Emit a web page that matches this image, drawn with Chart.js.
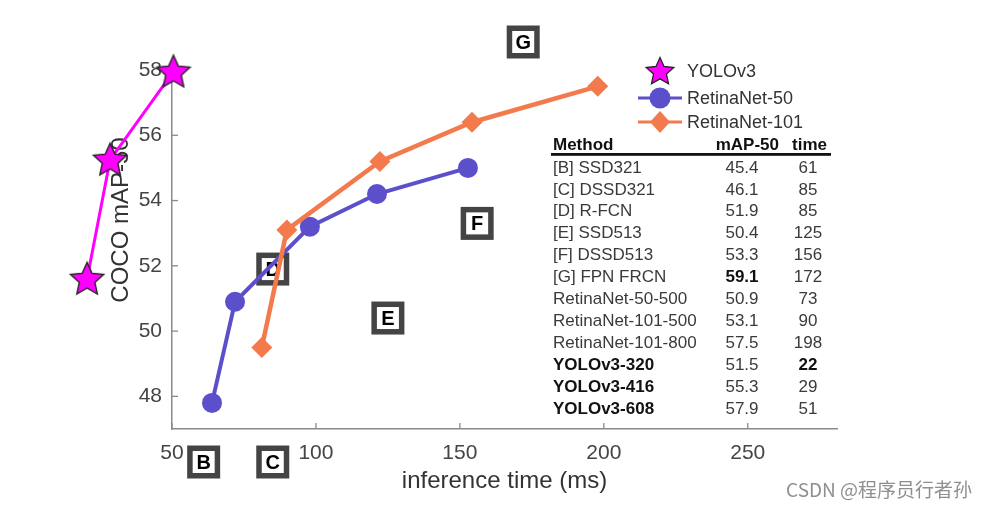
<!DOCTYPE html>
<html><head><meta charset="utf-8">
<script src="https://cdn.jsdelivr.net/npm/chart.js@4"></script>
<style>html,body{margin:0;padding:0;background:#fff}#wrap{width:988px;height:509px}</style>
</head><body><div id="wrap"><canvas id="c" width="988" height="509"></canvas></div>
<script>
// ---- data ----
const xTicks = [50, 100, 150, 200, 250];
const yTicks = [48, 50, 52, 54, 56, 58];
// YOLOv3 points listed from largest to smallest input size
const yoloTime = [50.5, 28.5, 20.5];
const yoloMap = [57.95, 55.25, 51.6];
const r50Time = [63.9, 71.9, 97.9, 121.2, 152.8];
const r50Map = [47.8, 50.9, 53.2, 54.2, 55.0];
const r101Time = [81.2, 89.9, 122.2, 154.2, 197.9];
const r101Map = [49.5, 53.1, 55.2, 56.4, 57.5];
const seriesNames = ['YOLOv3', 'RetinaNet-50', 'RetinaNet-101'];
const boxLetters = ['B', 'C', 'D', 'E', 'F', 'G'];
const boxTime = [61, 85, 85, 125, 156, 172];
const boxMap = [45.4, 46.1, 51.9, 50.4, 53.3, 59.1];
const tableHeader = ['Method', 'mAP-50', 'time'];
const tableMethods = ['[B] SSD321', '[C] DSSD321', '[D] R-FCN', '[E] SSD513', '[F] DSSD513', '[G] FPN FRCN',
  'RetinaNet-50-500', 'RetinaNet-101-500', 'RetinaNet-101-800', 'YOLOv3-320', 'YOLOv3-416', 'YOLOv3-608'];
const tableMap = ['45.4', '46.1', '51.9', '50.4', '53.3', '59.1', '50.9', '53.1', '57.5', '51.5', '55.3', '57.9'];
const tableTime = ['61', '85', '85', '125', '156', '172', '73', '90', '198', '22', '29', '51'];
const boldMethod = [0,0,0,0,0,0,0,0,0,1,1,1];
const boldMap = [0,0,0,0,0,1,0,0,0,0,0,0];
const boldTime = [0,0,0,0,0,0,0,0,0,1,0,0];

const MAGENTA = '#ff00ff', BLUE = '#5b4fcc', ORANGE = '#f27a4c';
const FONT = '"Liberation Sans", Arial, sans-serif';

function makeStar(R, lw) {
  const s = Math.ceil(2 * R + lw * 2 + 2);
  const cv = document.createElement('canvas');
  cv.width = s; cv.height = s;
  const g = cv.getContext('2d');
  const c = s / 2, r = R * 0.47;
  g.beginPath();
  for (let i = 0; i < 10; i++) {
    const a = -Math.PI / 2 + i * Math.PI / 5;
    const rr = i % 2 === 0 ? R : r;
    g.lineTo(c + rr * Math.cos(a), c + rr * Math.sin(a) + 1);
  }
  g.closePath();
  g.fillStyle = MAGENTA; g.fill();
  g.lineWidth = lw; g.strokeStyle = '#222'; g.lineJoin = 'miter'; g.stroke();
  return cv;
}
const bigStar = makeStar(17.5, 1.4);
const smallStar = makeStar(14.5, 1.3);

function pts(xs, ys) { return xs.map((x, i) => ({ x: x, y: ys[i] })); }

const overlay = {
  id: 'overlay',
  beforeDatasetsDraw(chart) {
    const ctx = chart.ctx, xs = chart.scales.x, ys = chart.scales.y, ca = chart.chartArea;
    ctx.save();
    // y axis title (drawn under the marks)
    ctx.save();
    ctx.translate(121, 220); ctx.rotate(-Math.PI / 2);
    ctx.fillStyle = '#333'; ctx.font = '24px ' + FONT; ctx.textAlign = 'center'; ctx.textBaseline = 'middle';
    ctx.fillText('COCO mAP-50', 0, 0);
    ctx.restore();
    ctx.strokeStyle = '#8a8a8a'; ctx.lineWidth = 1.3;
    xTicks.forEach(v => { const p = xs.getPixelForValue(v); ctx.beginPath(); ctx.moveTo(p, ca.bottom); ctx.lineTo(p, ca.bottom - 6); ctx.stroke(); });
    yTicks.forEach(v => { const p = ys.getPixelForValue(v); ctx.beginPath(); ctx.moveTo(ca.left, p); ctx.lineTo(ca.left + 6, p); ctx.stroke(); });
    boxLetters.forEach((L, i) => {
      const cx = xs.getPixelForValue(boxTime[i]);
      let cy = ys.getPixelForValue(boxMap[i]);
      if (boxMap[i] < ys.min) cy = ca.bottom + 33;
      if (cy < ca.top - 28) cy = ca.top - 28;
      const S = 33, B = 5.5;
      ctx.fillStyle = '#444'; ctx.fillRect(cx - S / 2, cy - S / 2, S, S);
      ctx.fillStyle = '#fff'; ctx.fillRect(cx - S / 2 + B, cy - S / 2 + B, S - 2 * B, S - 2 * B);
      ctx.fillStyle = '#000'; ctx.font = 'bold 20px ' + FONT; ctx.textAlign = 'center'; ctx.textBaseline = 'middle';
      ctx.fillText(L, cx, cy + 1);
    });
    ctx.restore();
  },
  afterDatasetsDraw(chart) {
    // star markers at the library-computed positions of the YOLOv3 points (they lie left of the axis)
    const ctx = chart.ctx;
    chart.getDatasetMeta(0).data.forEach(el => {
      ctx.drawImage(bigStar, el.x - bigStar.width / 2, el.y - bigStar.height / 2);
    });
  },
  afterDraw(chart) {
    const ctx = chart.ctx;
    ctx.save();
    const lx = 660, ly = [71, 98, 122], tx = 687;
    ctx.drawImage(smallStar, lx - smallStar.width / 2, ly[0] - smallStar.height / 2);
    ctx.lineWidth = 3;
    ctx.strokeStyle = BLUE; ctx.beginPath(); ctx.moveTo(638, ly[1]); ctx.lineTo(682, ly[1]); ctx.stroke();
    ctx.fillStyle = BLUE; ctx.beginPath(); ctx.arc(lx, ly[1], 10.5, 0, Math.PI * 2); ctx.fill();
    ctx.strokeStyle = ORANGE; ctx.beginPath(); ctx.moveTo(638, ly[2]); ctx.lineTo(682, ly[2]); ctx.stroke();
    ctx.fillStyle = ORANGE; ctx.beginPath(); ctx.moveTo(lx, ly[2] - 11); ctx.lineTo(lx + 10, ly[2]); ctx.lineTo(lx, ly[2] + 11); ctx.lineTo(lx - 10, ly[2]); ctx.closePath(); ctx.fill();
    ctx.fillStyle = '#333'; ctx.font = '18px ' + FONT; ctx.textAlign = 'left'; ctx.textBaseline = 'middle';
    seriesNames.forEach((n, i) => ctx.fillText(n, tx, ly[i] + 1));
    const c0 = 553, c1 = 742, c2 = 808, hy = 145, r0 = 168, dy = 21.9;
    ctx.fillStyle = '#111'; ctx.font = 'bold 17px ' + FONT;
    ctx.textAlign = 'left'; ctx.fillText(tableHeader[0], c0, hy);
    ctx.textAlign = 'right'; ctx.fillText(tableHeader[1], 779, hy);
    ctx.textAlign = 'right'; ctx.fillText(tableHeader[2], 827, hy);
    ctx.fillStyle = '#111'; ctx.fillRect(551, 153, 280, 2.8);
    tableMethods.forEach((m, i) => {
      const y = r0 + i * dy;
      ctx.textAlign = 'left'; ctx.font = (boldMethod[i] ? 'bold ' : '') + '17px ' + FONT; ctx.fillStyle = boldMethod[i] ? '#111' : '#3a3a3a';
      ctx.fillText(m, c0, y);
      ctx.textAlign = 'center'; ctx.font = (boldMap[i] ? 'bold ' : '') + '17px ' + FONT; ctx.fillStyle = boldMap[i] ? '#111' : '#3a3a3a';
      ctx.fillText(tableMap[i], c1, y);
      ctx.font = (boldTime[i] ? 'bold ' : '') + '17px ' + FONT; ctx.fillStyle = boldTime[i] ? '#111' : '#3a3a3a';
      ctx.fillText(tableTime[i], c2, y);
    });
    ctx.fillStyle = '#8f8f8f'; ctx.font = '19px "Noto Sans CJK SC", "Noto Sans", sans-serif'; ctx.textAlign = 'right'; ctx.textBaseline = 'middle';
    ctx.fillText('CSDN @程序员行者孙', 972, 490);
    ctx.restore();
  }
};

new Chart(document.getElementById('c'), {
  type: 'line',
  data: {
    datasets: [
      { label: seriesNames[0], data: pts(yoloTime, yoloMap), borderColor: MAGENTA, borderWidth: 3, pointRadius: 0, clip: false, order: 1 },
      { label: seriesNames[1], data: pts(r50Time, r50Map), borderColor: BLUE, backgroundColor: BLUE, borderWidth: 4, pointStyle: 'circle', pointRadius: 10, pointBorderWidth: 0, pointBackgroundColor: BLUE, clip: false, order: 3 },
      { label: seriesNames[2], data: pts(r101Time, r101Map), borderColor: ORANGE, backgroundColor: ORANGE, borderWidth: 4.5, pointStyle: 'rectRot', pointRadius: 10.5, pointBorderWidth: 0, pointBackgroundColor: ORANGE, clip: false, order: 2 }
    ]
  },
  options: {
    responsive: false, animation: false, devicePixelRatio: 1,
    layout: { padding: { left: 0, right: 151, top: 70, bottom: 0 } },
    plugins: { legend: { display: false }, tooltip: { enabled: false } },
    scales: {
      x: {
        type: 'linear', min: 50, max: 281,
        afterBuildTicks: s => { s.ticks = xTicks.map(v => ({ value: v })); },
        afterFit: s => { s.height = 80; },
        grid: { display: false, drawTicks: false },
        border: { color: '#8a8a8a', width: 1.5 },
        ticks: { color: '#444', font: { family: FONT, size: 21 }, padding: 12 },
        title: { display: true, text: 'inference time (ms)', color: '#333', font: { family: FONT, size: 24 }, padding: { top: 0, bottom: 13 } }
      },
      y: {
        type: 'linear', min: 47, max: 58,
        afterBuildTicks: s => { s.ticks = yTicks.map(v => ({ value: v })); },
        afterFit: s => { s.width = 172; },
        grid: { display: false, drawTicks: false },
        border: { color: '#8a8a8a', width: 1.5 },
        ticks: { color: '#444', font: { family: FONT, size: 21 }, padding: 10 }
      }
    }
  },
  plugins: [overlay]
});
</script></body></html>
